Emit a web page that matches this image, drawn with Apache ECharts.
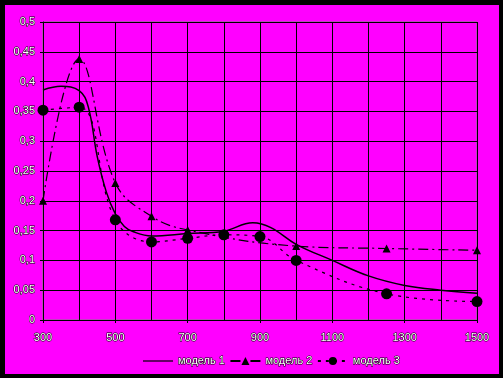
<!DOCTYPE html>
<html>
<head>
<meta charset="utf-8">
<script src="https://cdn.jsdelivr.net/npm/echarts@6/dist/echarts.min.js"></script>
<style>
  html, body { margin: 0; padding: 0; background: #000; }
  #wrap { width: 503px; height: 378px; background: #000; position: relative; }
  #chart { position: absolute; left: 5px; top: 5px; width: 494px; height: 369px; }
</style>
</head>
<body>
<div id="wrap"><div id="chart"></div></div>
<script>
// wavelength-like x values and the three model curves
var seriesNames = ['модель 1', 'модель 2', 'модель 3'];

var model1X = [300, 350, 400, 425, 450, 475, 500, 525, 550, 600, 700, 800, 880, 930, 1000, 1100, 1200, 1300, 1400, 1500];
var model1Y = [0.386, 0.392, 0.385, 0.358, 0.274, 0.215, 0.178, 0.157, 0.148, 0.141, 0.145, 0.149, 0.163, 0.155, 0.127, 0.1, 0.074, 0.058, 0.05, 0.045];

var model2X = [300, 400, 500, 600, 700, 1000, 1250, 1500];
var model2Y = [0.2, 0.438, 0.23, 0.174, 0.151, 0.124, 0.12, 0.117];

var model3X = [300, 400, 500, 600, 700, 800, 900, 1000, 1250, 1500];
var model3Y = [0.352, 0.357, 0.168, 0.131, 0.137, 0.143, 0.14, 0.1, 0.044, 0.031];

var yTicks = [0, 0.05, 0.1, 0.15, 0.2, 0.25, 0.3, 0.35, 0.4, 0.45, 0.5];

function pairs(xs, ys) {
  return xs.map(function (x, i) { return [x, ys[i]]; });
}

var txt = {
  color: '#fff',
  fontFamily: 'Liberation Sans, Arial, sans-serif',
  fontSize: 11,
  textBorderColor: '#000',
  textBorderWidth: 1
};

var chart = echarts.init(document.getElementById('chart'));
chart.setOption({
  backgroundColor: '#ff00ff',
  animation: false,
  grid: {
    left: 38, right: 22, top: 17, bottom: 54,
    show: true, backgroundColor: 'transparent',
    borderColor: '#808080', borderWidth: 1
  },
  legend: {
    bottom: 2,
    left: 133,
    itemWidth: 30,
    itemHeight: 10,
    itemGap: 4,
    textStyle: txt,
    data: [
      { name: seriesNames[0], icon: 'path://M0,4.4L30,4.4L30,5.6L0,5.6Z', itemStyle: { color: '#000' } },
      seriesNames[1],
      seriesNames[2]
    ]
  },
  xAxis: [{
    type: 'value', min: 300, max: 1500, interval: 100,
    axisLine: { show: true, lineStyle: { color: '#000', width: 1 } },
    axisTick: { show: false },
    axisLabel: { show: false },
    splitLine: { show: true, lineStyle: { color: '#000', width: 1 } }
  }, {
    type: 'value', min: 300, max: 1500, interval: 200, position: 'bottom',
    axisLine: { show: false },
    axisTick: { show: true, length: 3, lineStyle: { color: '#000' } },
    axisLabel: Object.assign({
      margin: 12,
      formatter: function (v) { return String(v); }
    }, txt),
    splitLine: { show: false }
  }],
  yAxis: {
    type: 'value', min: 0, max: 0.5, interval: 0.05,
    axisLine: { show: true, lineStyle: { color: '#000', width: 1 } },
    axisTick: { show: true, length: 3, lineStyle: { color: '#000' } },
    axisLabel: Object.assign({
      margin: 8,
      formatter: function (v) {
        var t = yTicks.find(function (k) { return Math.abs(k - v) < 1e-9; });
        return String(+t.toFixed(2)).replace('.', ',');
      }
    }, txt),
    splitLine: { show: true, lineStyle: { color: '#000', width: 1 } }
  },
  series: [{
    name: seriesNames[0], type: 'line', smooth: 0.4,
    showSymbol: false, symbol: 'none',
    lineStyle: { color: '#000', width: 1.5, type: 'solid' },
    itemStyle: { color: '#000' },
    data: pairs(model1X, model1Y)
  }, {
    name: seriesNames[1], type: 'line', smooth: 0.4,
    symbol: 'triangle', symbolSize: 8,
    lineStyle: { color: '#000', width: 1.2, type: [10, 4, 2, 4] },
    itemStyle: { color: '#000' },
    data: pairs(model2X, model2Y)
  }, {
    name: seriesNames[2], type: 'line', smooth: 0.4,
    symbol: 'circle', symbolSize: 11,
    lineStyle: { color: '#000', width: 1.2, type: [3, 5] },
    itemStyle: { color: '#000' },
    data: pairs(model3X, model3Y)
  }]
});
</script>
</body>
</html>
